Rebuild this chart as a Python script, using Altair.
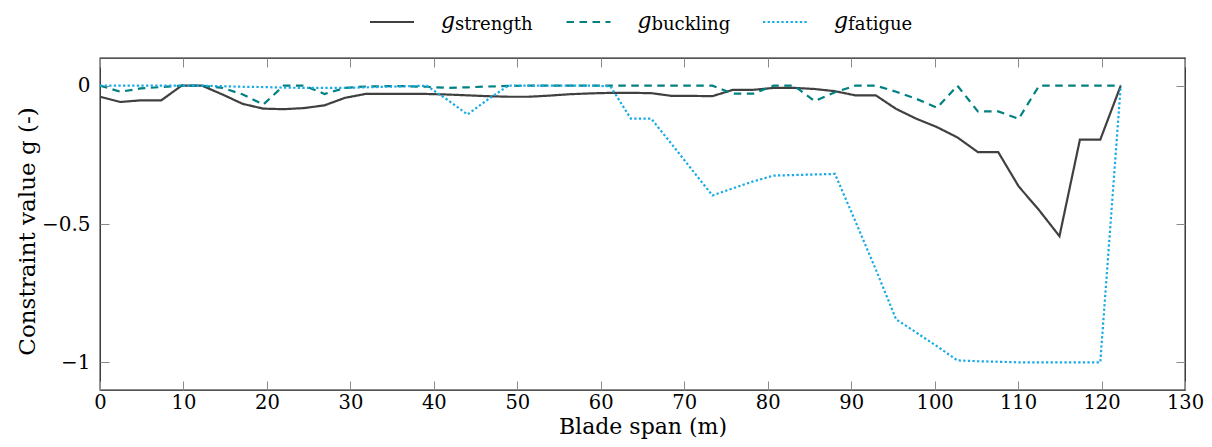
import altair as alt
import pandas as pd

# Blade span stations (m)
span = [0.00, 2.45, 4.89, 7.34, 9.78, 12.23, 14.68, 17.12, 19.57, 22.01,
        24.46, 26.91, 29.35, 31.80, 34.24, 36.69, 39.14, 41.58, 44.03, 46.47,
        48.92, 51.37, 53.81, 56.26, 58.70, 61.15, 63.60, 66.04, 68.49, 70.93,
        73.38, 75.83, 78.27, 80.72, 83.16, 85.61, 88.06, 90.50, 92.95, 95.39,
        97.84, 100.29, 102.73, 105.18, 107.62, 110.07, 112.52, 114.96, 117.41, 119.85,
        122.30]

g_strength = [-0.040, -0.059, -0.053, -0.053, 0.000, 0.000, -0.032, -0.066, -0.083, -0.085,
              -0.081, -0.071, -0.044, -0.030, -0.030, -0.030, -0.030, -0.032, -0.035, -0.038,
              -0.040, -0.040, -0.036, -0.031, -0.028, -0.026, -0.026, -0.027, -0.037, -0.037,
              -0.038, -0.015, -0.015, -0.008, -0.008, -0.012, -0.020, -0.035, -0.035, -0.084,
              -0.120, -0.150, -0.187, -0.240, -0.240, -0.364, -0.450, -0.544, -0.195, -0.195,
              0.000]

g_buckling = [0.000, -0.022, -0.010, -0.005, 0.000, 0.000, -0.008, -0.032, -0.068, 0.000,
              0.000, -0.030, -0.008, -0.003, -0.002, -0.002, -0.004, -0.008, -0.006, -0.003,
              -0.001, 0.000, 0.000, 0.000, 0.000, 0.000, 0.000, 0.000, 0.000, 0.000,
              0.000, -0.029, -0.029, 0.000, 0.000, -0.056, -0.024, 0.000, 0.000, -0.022,
              -0.048, -0.080, 0.000, -0.093, -0.093, -0.120, 0.000, 0.000, 0.000, 0.000,
              0.000]

g_fatigue = [0.000, 0.000, 0.000, 0.000, 0.000, 0.000, -0.002, -0.004, -0.005, -0.007,
             -0.008, -0.008, -0.008, -0.006, -0.004, -0.002, 0.000, -0.050, -0.104, -0.050,
             0.000, 0.000, 0.000, 0.000, 0.000, -0.002, -0.119, -0.119, -0.211, -0.304,
             -0.397, -0.371, -0.346, -0.325, -0.323, -0.321, -0.319, -0.490, -0.664, -0.845,
             -0.893, -0.942, -0.993, -0.996, -0.998, -1.000, -1.000, -1.000, -1.000, -1.000,
             0.000]

series_keys = ["strength", "buckling", "fatigue"]
series_colors = ["#404040", "#008080", "#18ABE6"]
series_dashes = [[1, 0], [7.5, 5.5], [2.3, 2.3]]
series_widths = [2.2, 2.2, 2.5]

rows = []
for key, vals in zip(series_keys, [g_strength, g_buckling, g_fatigue]):
    for s, v in zip(span, vals):
        rows.append({"span": s, "g": v, "series": key})
df = pd.DataFrame(rows)
legend_df = pd.DataFrame({"series": series_keys, "sym": ["g", "g", "g"]})

W, H = 1085, 332
FONT = "DejaVu Serif"

color = alt.Color("series:N", scale=alt.Scale(domain=series_keys, range=series_colors), legend=None)
dash = alt.StrokeDash("series:N", scale=alt.Scale(domain=series_keys, range=series_dashes), legend=None)
width = alt.StrokeWidth("series:N", scale=alt.Scale(domain=series_keys, range=series_widths), legend=None)

x_axis = alt.Axis(
    values=list(range(0, 131, 10)), format="d", title="Blade span (m)",
    grid=True, gridDash=[9, H - 18, 9, 3000], gridColor="#8a8a8a", gridWidth=1,
    ticks=False, domain=False, labelFlush=False, labelOverlap=False,
    labelFont=FONT, labelFontSize=19.5, labelColor="black", labelPadding=3,
    titleFont=FONT, titleFontSize=22, titleFontWeight="normal", titleColor="black",
    titleBaseline="alphabetic", titleY=43.5,
)
y_axis = alt.Axis(
    values=[-1, -0.5, 0], format="~g", title="Constraint value g (-)",
    grid=True, gridDash=[9, W - 18, 9, 3000], gridColor="#8a8a8a", gridWidth=1,
    ticks=False, domain=False, labelFlush=False, labelOverlap=False,
    labelFont=FONT, labelFontSize=20, labelColor="black", labelPadding=10,
    titleFont=FONT, titleFontSize=23, titleFontWeight="normal", titleColor="black",
    titlePadding=2, titleY=173,
)

lines = alt.Chart(df).mark_line().encode(
    x=alt.X("span:Q", scale=alt.Scale(domain=[0, 130], nice=False, zero=False), axis=x_axis),
    y=alt.Y("g:Q", scale=alt.Scale(domain=[-1.1, 0.1], nice=False, zero=False), axis=y_axis),
    color=color,
    strokeDash=dash,
    strokeWidth=width,
)

lx = alt.X("series:N",
           scale=alt.Scale(type="point", domain=series_keys, range=[270, 663], padding=0),
           axis=None)

leg_rule = alt.Chart(legend_df).mark_rule(x2Offset=44).encode(
    x=lx, x2=alt.X2("series"), y=alt.value(-36), color=color, strokeDash=dash, strokeWidth=width,
)
leg_g = alt.Chart(legend_df).mark_text(
    font=FONT, fontStyle="italic", fontSize=22, align="left", baseline="alphabetic", dx=71, color="black"
).encode(x=lx, y=alt.value(-30), text="sym:N")
leg_sub = alt.Chart(legend_df).mark_text(
    font=FONT, fontSize=18, align="left", baseline="alphabetic", dx=85, color="black"
).encode(x=lx, y=alt.value(-28), text="series:N")

chart = alt.layer(lines, leg_rule, leg_g, leg_sub).resolve_scale(x="independent").properties(
    width=W, height=H,
    autosize=alt.AutoSizeParams(type="none"),
    padding={"left": 92, "top": 50, "right": 19, "bottom": 49},
    background="white",
).configure_view(stroke="#1a1a1a", strokeWidth=1.3)

chart.save("out.html", embed_options={"renderer": "svg", "actions": False})
